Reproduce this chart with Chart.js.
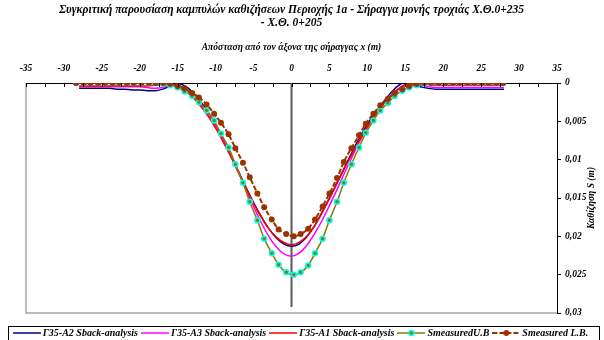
<!DOCTYPE html>
<html>
<head>
<meta charset="utf-8">
<script src="https://cdn.jsdelivr.net/npm/chart.js@4.4.1/dist/chart.umd.min.js"></script>
<style>
  html, body { margin: 0; padding: 0; background: #fff; }
</style>
</head>
<body>
<canvas id="chart" width="604" height="340"></canvas>
<script>
const FONT = '"Liberation Serif", "Times New Roman", serif';

const titleLines = [
  'Συγκριτική παρουσίαση καμπυλών καθιζήσεων Περιοχής 1a - Σήραγγα μονής τροχιάς Χ.Θ.0+235',
  '- Χ.Θ. 0+205'
];
const xTitle = 'Απόσταση από τον άξονα της σήραγγας x (m)';
const yTitle = 'Καθίζηση S (m)';

const seriesNames = [
  'Γ35-A2 Sback-analysis',
  'Γ35-A3 Sback-analysis',
  'Γ35-A1 Sback-analysis',
  'SmeasuredU.B',
  'Smeasured L.B.'
];

// back-analysis curves, x in m
const analysisX = [
  -28, -27, -26, -25, -24, -23, -22, -21, -20, -19, -18, -17, -16, -15, -14,
  -13, -12, -11, -10, -9, -8, -7, -6, -5, -4, -3, -2, -1, 0,
  1, 2, 3, 4, 5, 6, 7, 8, 9, 10, 11, 12, 13, 14, 15,
  16, 17, 18, 19, 20, 21, 22, 23, 24, 25, 26, 27, 28
];
const sA2 = [
  0.0007, 0.0007, 0.0007, 0.0007, 0.0007, 0.0008, 0.0008, 0.0009, 0.0009, 0.0010, 0.0010, 0.0008, 0.0004, 0.0001, 0.0004,
  0.0012, 0.0024, 0.0038, 0.0055, 0.0074, 0.0094, 0.0115, 0.0136, 0.0156, 0.0174, 0.0190, 0.0202, 0.0210, 0.0213,
  0.0210, 0.0201, 0.0187, 0.0169, 0.0150, 0.0130, 0.0110, 0.0090, 0.0071, 0.0054, 0.0039, 0.0026, 0.0014, 0.0004, -0.0001,
  0.0002, 0.0005, 0.0007, 0.0008, 0.0008, 0.0008, 0.0008, 0.0008, 0.0008, 0.0008, 0.0008, 0.0008, 0.0008
];
const sA3 = [
  0.0005, 0.0005, 0.0005, 0.0005, 0.0005, 0.0005, 0.0005, 0.0005, 0.0005, 0.0006, 0.0007, 0.0006, 0.0003, 0.0003, 0.0008,
  0.0016, 0.0027, 0.0040, 0.0056, 0.0074, 0.0094, 0.0116, 0.0139, 0.0161, 0.0182, 0.0200, 0.0214, 0.0223, 0.0226,
  0.0222, 0.0212, 0.0197, 0.0180, 0.0160, 0.0139, 0.0117, 0.0096, 0.0076, 0.0058, 0.0042, 0.0029, 0.0017, 0.0008, 0.0002,
  0.0001, 0.0003, 0.0005, 0.0006, 0.0006, 0.0006, 0.0006, 0.0006, 0.0006, 0.0006, 0.0006, 0.0006, 0.0006
];
const sA1 = [
  0.0004, 0.0004, 0.0004, 0.0004, 0.0004, 0.0004, 0.0004, 0.0004, 0.0004, 0.0004, 0.0003, 0.0002, 0.0001, 0.0004, 0.0010,
  0.0019, 0.0030, 0.0043, 0.0059, 0.0077, 0.0096, 0.0117, 0.0137, 0.0157, 0.0175, 0.0190, 0.0201, 0.0208, 0.0211,
  0.0208, 0.0200, 0.0187, 0.0170, 0.0151, 0.0131, 0.0111, 0.0092, 0.0074, 0.0057, 0.0042, 0.0029, 0.0018, 0.0009, 0.0003,
  0.0000, 0.0001, 0.0002, 0.0003, 0.0003, 0.0003, 0.0003, 0.0003, 0.0003, 0.0003, 0.0003, 0.0003, 0.0003
];

// measured points, x in m
const measuredX = [
  -28.4, -27.4, -26.5, -25.5, -24.6, -23.6, -22.7, -21.7, -20.8, -19.8,
  -18.8, -17.9, -16.9, -16.0, -15.0, -14.1, -13.1, -12.2, -11.2, -10.2,
  -9.3, -8.3, -7.4, -6.4, -5.5, -4.5, -3.6, -2.6, -1.7, -0.7,
  0.3, 1.2, 2.2, 3.1, 4.1, 5.0, 6.0, 6.9, 7.9, 8.9,
  9.8, 10.8, 11.7, 12.7, 13.6, 14.6, 15.5, 16.5, 17.5, 18.4,
  19.4, 20.3, 21.3, 22.2, 23.2, 24.1, 25.1, 26.0, 27.0, 27.9
];
const sUB = [
  0, 0, 0, 0, 0, 0, 0, 0, 0, 0,
  0, 0, 0.0001, 0.0003, 0.0006, 0.0011, 0.0017, 0.0025, 0.0036, 0.0049,
  0.0066, 0.0084, 0.0106, 0.0130, 0.0155, 0.0179, 0.0203, 0.0222, 0.0237, 0.0247,
  0.0250, 0.0247, 0.0238, 0.0222, 0.0203, 0.0179, 0.0155, 0.0130, 0.0106, 0.0084,
  0.0065, 0.0049, 0.0036, 0.0026, 0.0017, 0.0010, 0.0006, 0.0003, 0.0001, 0,
  0, 0, 0, 0, 0, 0, 0, 0, 0, 0
];
const sLB = [
  0, 0, 0, 0, 0, 0, 0, 0, 0, 0,
  0, 0, 0, 0.0001, 0.0004, 0.0007, 0.0013, 0.0019, 0.0028, 0.0040,
  0.0052, 0.0067, 0.0085, 0.0104, 0.0123, 0.0144, 0.0162, 0.0178, 0.0191, 0.0197,
  0.0200, 0.0197, 0.0190, 0.0178, 0.0161, 0.0144, 0.0124, 0.0103, 0.0085, 0.0068,
  0.0053, 0.0040, 0.0029, 0.0021, 0.0013, 0.0008, 0.0004, 0.0001, 0, 0,
  0, 0, 0, 0, 0, 0, 0, 0, 0, 0
];

const toPoints = (xs, ys) => xs.map((x, i) => ({ x: x, y: ys[i] }));

// legend samples: line plus marker, drawn a bit wider than the legend box
function swatch(color, dash, width, marker) {
  const c = document.createElement('canvas');
  c.width = 28; c.height = 10;
  const g = c.getContext('2d');
  g.strokeStyle = color; g.lineWidth = width; g.setLineDash(dash);
  g.beginPath(); g.moveTo(0, 5); g.lineTo(28, 5); g.stroke();
  g.setLineDash([]);
  if (marker) marker(g, 14, 5);
  return c;
}
const swatches = [
  swatch('#000080', [], 1.5),
  swatch('#ff00ff', [], 1.5),
  swatch('#ff0000', [], 1.5),
  swatch('#808000', [], 1.5, (g, x, y) => {
    g.fillStyle = '#808000'; g.strokeStyle = '#00ffff'; g.lineWidth = 1.5;
    g.beginPath(); g.arc(x, y, 2.5, 0, Math.PI * 2); g.fill(); g.stroke();
  }),
  swatch('#993300', [5, 2], 2, (g, x, y) => {
    g.fillStyle = '#993300';
    g.beginPath(); g.arc(x, y, 3, 0, Math.PI * 2); g.fill();
  })
];

const decor = {
  id: 'decor',
  beforeDraw(chart) {
    const { ctx } = chart;
    ctx.save();
    ctx.fillStyle = '#fff';
    ctx.fillRect(0, 0, chart.width, chart.height);
    ctx.restore();
  },
  beforeDatasetsDraw(chart) {
    const { ctx, chartArea: a, scales: { x } } = chart;
    ctx.save();
    ctx.strokeStyle = '#a6a6a6';
    ctx.lineWidth = 1.5;
    ctx.beginPath();
    ctx.moveTo(a.left, a.top);
    ctx.lineTo(a.left, a.bottom);
    ctx.lineTo(a.right, a.bottom);
    ctx.stroke();
    const x0 = x.getPixelForValue(0);
    ctx.strokeStyle = '#595959';
    ctx.lineWidth = 2;
    ctx.beginPath();
    ctx.moveTo(x0, a.top);
    ctx.lineTo(x0, a.bottom - 6);
    ctx.stroke();
    ctx.restore();
  },
  afterDatasetsDraw(chart) {
    const { ctx, chartArea: a, scales: { x } } = chart;
    ctx.save();
    ctx.strokeStyle = '#000';
    ctx.lineWidth = 1;
    x.ticks.forEach(t => {
      const px = Math.round(x.getPixelForValue(t.value)) + 0.5;
      ctx.beginPath();
      ctx.moveTo(px, a.top);
      ctx.lineTo(px, a.top + 4);
      ctx.stroke();
    });
    ctx.restore();
  },
  afterDraw(chart) {
    const { ctx, chartArea: a } = chart;
    ctx.save();
    ctx.fillStyle = '#000';
    ctx.textAlign = 'center';
    ctx.textBaseline = 'middle';
    ctx.font = 'italic bold 11.5px ' + FONT;
    const cx = (a.left + a.right) / 2;
    ctx.fillText(titleLines[0], cx, 10);
    ctx.fillText(titleLines[1], cx, 23);
    ctx.font = 'italic bold 9.5px ' + FONT;
    ctx.fillText(xTitle, cx, 48);
    ctx.translate(592, (a.top + a.bottom) / 2);
    ctx.rotate(-Math.PI / 2);
    ctx.fillText(yTitle, 0, 0);
    ctx.restore();
    // legend frame
    const lg = chart.legend;
    ctx.save();
    ctx.strokeStyle = '#000';
    ctx.lineWidth = 1;
    ctx.strokeRect(8.5, lg.top + 4.5, 591, 20);
    ctx.restore();
  }
};

const tickFont = { family: FONT, size: 9.5, style: 'italic', weight: 'bold' };
const common = { xAxisID: 'x', yAxisID: 'y', cubicInterpolationMode: 'monotone' };

new Chart(document.getElementById('chart'), {
  type: 'line',
  data: {
    datasets: [
      { ...common, label: seriesNames[0], data: toPoints(analysisX, sA2), borderColor: '#000080', backgroundColor: '#000080',
        borderWidth: 1.5, pointRadius: 0, order: 5 },
      { ...common, label: seriesNames[1], data: toPoints(analysisX, sA3), borderColor: '#ff00ff', backgroundColor: '#ff00ff',
        borderWidth: 1.5, pointRadius: 0, order: 4 },
      { ...common, label: seriesNames[2], data: toPoints(analysisX, sA1), borderColor: '#ff0000', backgroundColor: '#ff0000',
        borderWidth: 1.5, pointRadius: 0, order: 3 },
      { ...common, label: seriesNames[3], data: toPoints(measuredX, sUB), borderColor: '#808000', backgroundColor: '#808000',
        borderWidth: 1.5, pointRadius: 2.5, pointBorderColor: '#00ffff', pointBackgroundColor: '#808000',
        pointBorderWidth: 1.5, order: 2 },
      { ...common, label: seriesNames[4], data: toPoints(measuredX, sLB), borderColor: '#993300', backgroundColor: '#993300',
        borderWidth: 2, borderDash: [5, 2], pointRadius: 3, pointBorderWidth: 0, pointBackgroundColor: '#993300',
        order: 1 }
    ]
  },
  options: {
    responsive: false,
    animation: false,
    devicePixelRatio: 1,
    layout: { padding: 0 },
    scales: {
      x: {
        type: 'linear', position: 'top', min: -35, max: 35,
        afterFit: s => { s.height = 83; },
        ticks: {
          stepSize: 2.5, autoSkip: false, maxRotation: 0, padding: 9, color: '#000', font: tickFont,
          callback: v => (v % 5 === 0 ? String(v) : '')
        },
        grid: { display: true, drawOnChartArea: false, drawTicks: false },
        border: { display: true, color: '#000', width: 1 }
      },
      gap: {
        type: 'linear', position: 'bottom', display: true,
        afterFit: s => { s.height = 9; },
        ticks: { display: false },
        grid: { display: false, drawTicks: false },
        border: { display: false }
      },
      padL: {
        type: 'linear', position: 'left', display: true,
        afterFit: s => { s.width = 26; },
        ticks: { display: false },
        grid: { display: false, drawTicks: false },
        border: { display: false }
      },
      y: {
        type: 'linear', position: 'right', reverse: true, min: 0, max: 0.03,
        afterFit: s => { s.width = 47; },
        ticks: {
          stepSize: 0.005, padding: 4, color: '#000', font: tickFont,
          callback: v => Number(v.toFixed(3)).toString().replace('.', ',')
        },
        grid: { display: true, drawOnChartArea: false, drawTicks: true, tickLength: 4, color: '#000' },
        border: { display: true, color: '#000', width: 1 }
      }
    },
    plugins: {
      title: { display: false },
      tooltip: { enabled: false },
      legend: {
        position: 'bottom',
        maxHeight: 18,
        labels: {
          usePointStyle: true,
          pointStyleWidth: 22,
          padding: 6,
          color: '#000',
          font: { family: FONT, size: 10, style: 'italic', weight: 'bold' },
          generateLabels: chart => chart.data.datasets.map((ds, i) => ({
            text: ds.label,
            pointStyle: swatches[i],
            fillStyle: ds.borderColor,
            strokeStyle: ds.borderColor,
            lineWidth: 0,
            hidden: false,
            datasetIndex: i,
            fontColor: '#000'
          }))
        }
      }
    }
  },
  plugins: [decor]
});
</script>
</body>
</html>
